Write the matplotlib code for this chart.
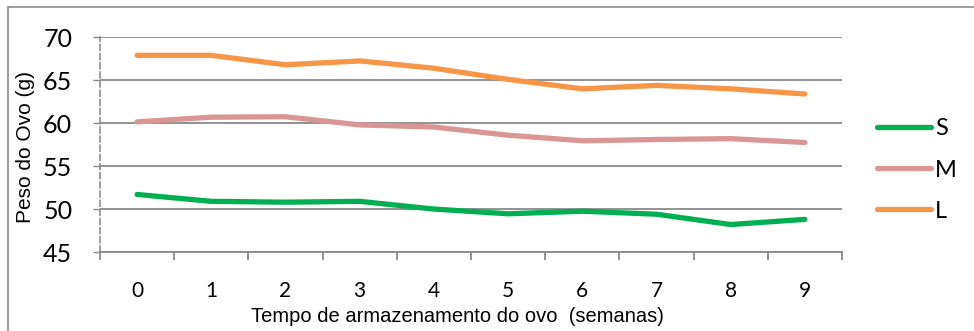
import numpy as np
import matplotlib
matplotlib.use('Agg')
import matplotlib.pyplot as plt
from matplotlib.patches import Rectangle


## Peso do ovo vs tempo de armazenamento

semanas = [0, 1, 2, 3, 4, 5, 6, 7, 8, 9]
peso_S = [51.7, 50.9, 50.8, 50.9, 50.0, 49.45, 49.75, 49.4, 48.2, 48.8]
peso_M = [60.15, 60.7, 60.75, 59.8, 59.55, 58.6, 57.95, 58.1, 58.2, 57.75]
peso_L = [67.9, 67.9, 66.8, 67.25, 66.4, 65.1, 64.0, 64.4, 64.0, 63.4]

series = [('S', peso_S, '#00B050'),
          ('M', peso_M, '#D99694'),
          ('L', peso_L, '#F79646')]

yticks = [45, 50, 55, 60, 65, 70]

W, H = 974, 331
fig = plt.figure(figsize=(W / 100, H / 100), dpi=100)
ax = fig.add_axes([100 / W, 1 - 252 / H, 742 / W, (252 - 37.3) / H])

grid_c = '#898989'
x = np.arange(len(semanas))

for nome, vals, cor in series:
    ax.plot(x, vals, color=cor, lw=3.8, solid_capstyle='round',
            solid_joinstyle='round', label=nome, zorder=3)

ax.set_xlim(-0.5, len(semanas) - 0.5)
ax.set_ylim(45, 70)

# y axis
ax.set_yticks(yticks)
ax.set_yticklabels([str(v) for v in yticks], fontfamily='Lato', fontsize=18)
ax.tick_params(axis='y', length=5, width=1, color=grid_c, pad=15)
for v in yticks:
    ax.axhline(v, color=grid_c, lw=1.3, zorder=1)

# x axis: ticks between categories, labels in the middle
ax.set_xticks(np.arange(-0.5, len(semanas), 1.0))
ax.set_xticklabels([])
ax.set_xticks(x, minor=True)
ax.set_xticklabels([str(s) for s in semanas], minor=True,
                   fontfamily='Lato', fontsize=15)
ax.tick_params(axis='x', which='major', length=6, width=1.3, color=grid_c)
ax.tick_params(axis='x', which='minor', length=0, pad=21)

for s in ['top', 'right']:
    ax.spines[s].set_visible(False)
ax.spines['bottom'].set_color(grid_c)
ax.spines['bottom'].set_linewidth(1.3)
ax.spines['left'].set_color('#8E8E8E')
ax.spines['left'].set_linestyle((0, (3.5, 2)))
ax.spines['left'].set_linewidth(1.2)
ax.spines['left'].set_zorder(2.5)

fig.text(457.5 / W, 1 - 317 / H, 'Tempo de armazenamento do ovo  (semanas)',
         fontfamily='Liberation Sans', fontsize=14.5, ha='center', va='center')
fig.text(26 / W, 1 - 147 / H, 'Peso do Ovo (g)', rotation=90,
         fontfamily='Liberation Sans', fontsize=15, ha='center', va='center')

leg = fig.legend(loc='center left', bbox_to_anchor=(877 / W, 1 - 170 / H),
                 frameon=False, prop={'family': 'Lato', 'size': 17},
                 handlelength=2.3, handletextpad=0.15, labelspacing=0.85,
                 borderpad=0, borderaxespad=0)

# chart border
fig.patches.append(Rectangle((8 / W, -0.1), 2, 1.1 - 7 / H,
                             transform=fig.transFigure, fill=False,
                             ec='#8C8C8C', lw=1.2))

fig.savefig('out.png', dpi=100)
